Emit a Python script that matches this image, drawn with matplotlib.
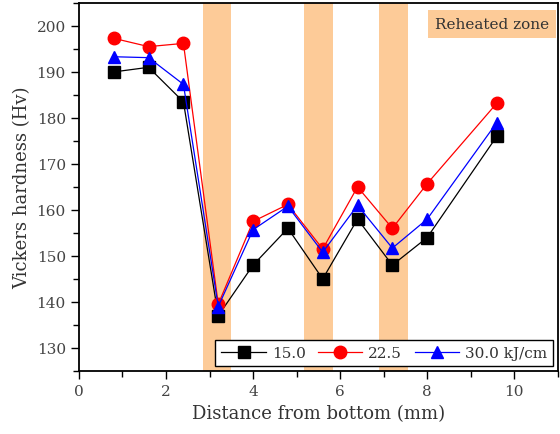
import matplotlib
matplotlib.use("Agg")
import matplotlib.pyplot as plt
from matplotlib.ticker import MultipleLocator

distance = [0.8, 1.6, 2.4, 3.2, 4.0, 4.8, 5.6, 6.4, 7.2, 8.0, 9.6]
hv_15 = [190.0, 191.0, 183.5, 137.0, 148.0, 156.0, 145.0, 158.0, 148.0, 154.0, 176.0]
hv_225 = [197.3, 195.5, 196.2, 139.5, 157.5, 161.2, 151.5, 165.0, 156.0, 165.7, 183.2]
hv_30 = [193.3, 193.1, 187.3, 139.0, 155.7, 160.8, 150.8, 161.0, 151.7, 158.0, 179.0]
labels = ["15.0", "22.5", "30.0 kJ/cm"]
zones = [(2.85, 3.5), (5.17, 5.83), (6.9, 7.55)]

plt.rcParams['font.family'] = ['DejaVu Serif']
fig = plt.figure(figsize=(5.6, 4.35), dpi=100)
ax = fig.add_axes([0.141, 0.145, 0.855, 0.846])

zc = '#FDCB98'
for a, b in zones:
    ax.axvspan(a, b, color=zc, lw=0, zorder=0)

ax.plot(distance, hv_15, '-s', color='black', ms=8, lw=0.9, label=labels[0], zorder=3)
ax.plot(distance, hv_225, '-o', color='red', ms=9, lw=0.9, label=labels[1], zorder=3)
ax.plot(distance, hv_30, '-^', color='blue', ms=8.5, lw=0.9, label=labels[2], zorder=3)

ax.set_xlim(0, 11)
ax.set_ylim(125, 205)
ax.xaxis.set_major_locator(MultipleLocator(2))
ax.xaxis.set_minor_locator(MultipleLocator(1))
ax.yaxis.set_major_locator(MultipleLocator(10))
ax.yaxis.set_minor_locator(MultipleLocator(5))
ax.set_yticks(range(130, 201, 10))
ax.tick_params(which='major', direction='out', length=6, width=1, labelsize=11, labelcolor='#444444')
ax.tick_params(which='minor', direction='out', length=4, width=1)
for s in ax.spines.values():
    s.set_linewidth(1.3)

ax.set_xlabel("Distance from bottom (mm)", fontsize=13, color='#333333')
ax.set_ylabel("Vickers hardness (Hv)", fontsize=13, color='#333333')

ax.text(0.982, 0.962, "Reheated zone", transform=ax.transAxes, ha='right', va='top',
        fontsize=11, color='#333333',
        bbox=dict(boxstyle='square,pad=0.45', fc=zc, ec='none'))

leg = ax.legend(loc='lower right', ncol=3, fontsize=11, frameon=True, fancybox=False,
                edgecolor='black', framealpha=1, borderaxespad=0.3, handlelength=2.9,
                columnspacing=0.8, handletextpad=0.4)
leg.get_frame().set_linewidth(1.0)
for t in leg.get_texts():
    t.set_color('#333333')

fig.savefig("out.png", dpi=100)
